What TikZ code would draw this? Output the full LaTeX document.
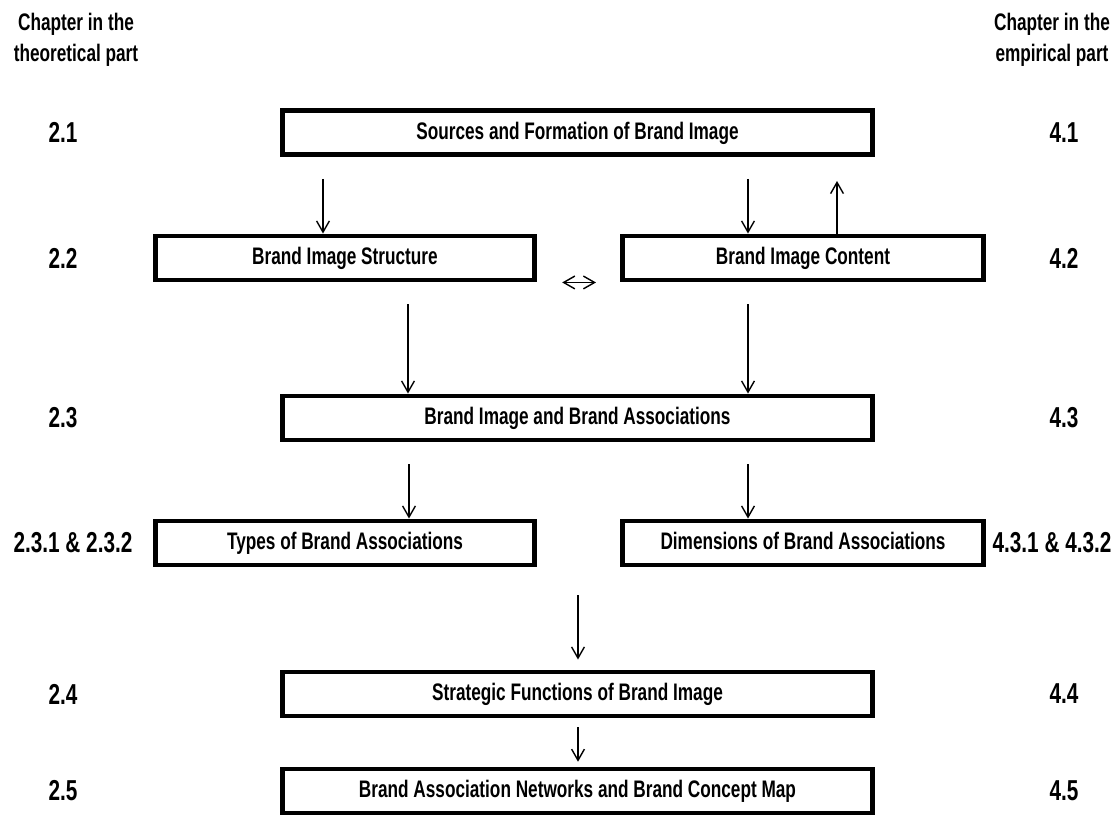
\documentclass[tikz,border=0pt]{standalone}
\usepackage{fontspec}
\setmainfont{Liberation Sans}[FakeStretch=0.72]
\usetikzlibrary{arrows.meta}
\tikzset{
  every picture/.style={font=\bfseries\fontsize{17}{22}\selectfont, line width=1pt},
  chbox/.style={draw, line width=3.5pt, minimum width=#1, minimum height=1.1cm, inner sep=0pt, text height=0.43cm, text depth=0.1cm},
  chbox/.default=14.75cm,
  arrow/.style={-{Straight Barb[length=2.8mm, width=3.2mm]}, line width=1pt},
  both/.style={{Straight Barb[length=2.8mm, width=3.2mm]}-{Straight Barb[length=2.8mm, width=3.2mm]}, line width=1pt},
  head/.style={align=center},
  num/.style={font=\bfseries\fontsize{20.5}{24}\selectfont},
}
\begin{document}
\begin{tikzpicture}[x=0.025cm, y=-0.025cm]
  \useasboundingbox (0,0) rectangle (1117,818);
  % column headings
  \node[head] (hl) at (76,40) {Chapter in the\\theoretical part};
  \node[head] (hr) at (1052,40) {Chapter in the\\empirical part};
  % the chapter boxes
  \foreach \n/\x/\y/\w/\t in {1/577.5/132.5/14.75cm/Sources and Formation of Brand Image,
      2/345/258/9.475cm/Brand Image Structure, 3/803/258/9.025cm/Brand Image Content,
      4/577.5/418/14.75cm/Brand Image and Brand Associations,
      5/345/543/9.475cm/Types of Brand Associations, 6/803/543/9.025cm/Dimensions of Brand Associations,
      7/577.5/694/14.75cm/Strategic Functions of Brand Image,
      8/577.5/791/14.75cm/Brand Association Networks and Brand Concept Map}
    \node[chbox=\w] (b\n) at (\x,\y) {\t};
  % chapter numbers, theoretical part left and empirical part right
  \foreach \n/\l/\r/\xl/\xr/\y in {1/2.1/4.1/63/1064/132.5, 2/2.2/4.2/63/1064/258, 3/2.3/4.3/63/1064/418,
      4/{2.3.1 \& 2.3.2}/{4.3.1 \& 4.3.2}/73/1052/543, 5/2.4/4.4/63/1064/694, 6/2.5/4.5/63/1064/791}
    {\node[num] (tl\n) at (\xl,\y) {\l};
     \node[num] (er\n) at (\xr,\y) {\r};}
  % arrow columns
  \foreach \x in {323, 408, 409, 578, 748, 837}
    \coordinate (col\x) at (\x,0);
  \foreach \a/\b/\x/\s/\e in {1/2/323/0.55/0, 1/3/748/0.55/0, 2/4/408/0.55/0, 3/4/748/0.55/0,
      4/5/409/0.55/0, 4/6/748/0.55/0, 5/7/578/0.7/0.25, 7/8/578/0.22/0.12}
    \draw[arrow, shorten <=\s cm, shorten >=\e cm] (b\a.south -| col\x) -- (b\b.north -| col\x);
  \draw[arrow, shorten >=0.6cm] (b3.north -| col837) -- (b1.south -| col837);
  \draw[both, shorten <=0.63cm, shorten >=0.6cm] (b2.south east) -- (b3.south west);
\end{tikzpicture}
\end{document}
